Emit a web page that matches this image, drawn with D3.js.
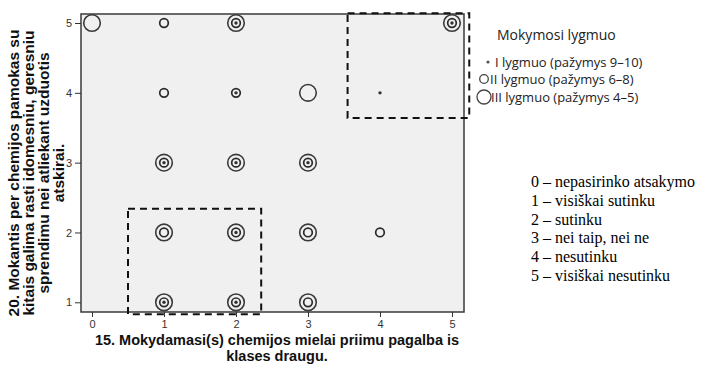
<!DOCTYPE html>
<html>
<head>
<meta charset="utf-8">
<script src="https://cdn.jsdelivr.net/npm/d3@7"></script>
<style>
  body { margin: 0; background: #fff; }
  svg { display: block; }
</style>
</head>
<body>
<div id="container"></div>
<script>
// DATA
const xTicks = [0, 1, 2, 3, 4, 5];
const yTicks = [1, 2, 3, 4, 5];

// [x answer, y answer] cells where each learning level appears
const levelI = [[2, 5], [5, 5], [2, 4], [4, 4], [1, 3], [2, 3], [3, 3], [2, 2], [1, 1], [2, 1]];
const levelII = [[1, 5], [2, 5], [5, 5], [1, 4], [2, 4], [1, 3], [2, 3], [3, 3], [1, 2], [2, 2], [3, 2], [4, 2], [1, 1], [2, 1], [3, 1]];
const levelIII = [[0, 5], [2, 5], [5, 5], [3, 4], [1, 3], [2, 3], [3, 3], [1, 2], [2, 2], [3, 2], [1, 1], [2, 1], [3, 1]];

const legendTitle = "Mokymosi lygmuo";
const legendLabels = ["I lygmuo (pažymys 9–10)", "II lygmuo (pažymys 6–8)", "III lygmuo (pažymys 4–5)"];

const scaleNotes = [
  "0 – nepasirinko atsakymo",
  "1 – visiškai sutinku",
  "2 – sutinku",
  "3 – nei taip, nei ne",
  "4 – nesutinku",
  "5 – visiškai nesutinku"
];

const xTitle = ["15. Mokydamasi(s) chemijos mielai priimu pagalba is", "klases draugu."];
const yTitle = ["20. Mokantis per chemijos pamokas su", "kitais galima rasti idomesniu, geresniu", "sprendimu nei atliekant uzduotis", "atskirai."];

// highlighted regions, in answer units
const boxes = [
  { x0: 0.5, x1: 2.35, y0: 0.83, y1: 2.34 },
  { x0: 3.55, x1: 5.24, y0: 3.64, y1: 5.14 }
];

/* CONSTANTS */
const width = 706, height = 371;
const plot = { left: 81, right: 464, top: 14, bottom: 312 };

const svg = d3.select("#container")
  .append("svg")
  .attr("width", width)
  .attr("height", height);

// SCALES
const xScale = d3.scaleLinear()
  .domain([-0.153, 5.167])
  .range([plot.left, plot.right]);

const yScale = d3.scaleLinear()
  .domain([0.861, 5.129])
  .range([plot.bottom, plot.top]);

// plot background
svg.append("rect")
  .attr("x", plot.left)
  .attr("y", plot.top)
  .attr("width", plot.right - plot.left)
  .attr("height", plot.bottom - plot.top)
  .attr("fill", "#f0f0f0")
  .attr("stroke", "#3a3a3a")
  .attr("stroke-width", 1.5);

// AXES
const xAxis = svg.append("g")
  .attr("transform", `translate(0,${plot.bottom})`)
  .call(d3.axisBottom(xScale).tickValues(xTicks).tickSize(5).tickPadding(3).tickFormat(d3.format("d")));

const yAxis = svg.append("g")
  .attr("transform", `translate(${plot.left},0)`)
  .call(d3.axisLeft(yScale).tickValues(yTicks).tickSize(6).tickPadding(3).tickFormat(d3.format("d")));

[xAxis, yAxis].forEach(ax => {
  ax.select(".domain").remove();
  ax.selectAll(".tick line").attr("stroke", "#333");
  ax.selectAll(".tick text")
    .attr("fill", "#333")
    .style("font-family", "'Liberation Sans', Arial, sans-serif")
    .style("font-size", "11px");
});

// MARKERS
const markers = svg.append("g");

markers.selectAll(".lvl3")
  .data(levelIII)
  .join("circle")
  .attr("class", "lvl3")
  .attr("cx", d => xScale(d[0]))
  .attr("cy", d => yScale(d[1]))
  .attr("r", 8.3)
  .attr("fill", "none")
  .attr("stroke", "#3a3a3a")
  .attr("stroke-width", 1.6);

markers.selectAll(".lvl2")
  .data(levelII)
  .join("circle")
  .attr("class", "lvl2")
  .attr("cx", d => xScale(d[0]))
  .attr("cy", d => yScale(d[1]))
  .attr("r", 4.3)
  .attr("fill", "none")
  .attr("stroke", "#2a2a2a")
  .attr("stroke-width", 1.7);

markers.selectAll(".lvl1")
  .data(levelI)
  .join("circle")
  .attr("class", "lvl1")
  .attr("cx", d => xScale(d[0]))
  .attr("cy", d => yScale(d[1]))
  .attr("r", 1.7)
  .attr("fill", "#333");

// DASHED BOXES
svg.selectAll(".box")
  .data(boxes)
  .join("rect")
  .attr("class", "box")
  .attr("x", d => xScale(d.x0))
  .attr("y", d => yScale(d.y1))
  .attr("width", d => xScale(d.x1) - xScale(d.x0))
  .attr("height", d => yScale(d.y0) - yScale(d.y1))
  .attr("fill", "none")
  .attr("stroke", "#111")
  .attr("stroke-width", 2)
  .attr("stroke-dasharray", "7,5");

// AXIS TITLES
svg.append("text")
  .attr("text-anchor", "middle")
  .style("font-family", "'Liberation Sans', Arial, sans-serif")
  .style("font-weight", "bold")
  .style("font-size", "14.5px")
  .attr("fill", "#111")
  .selectAll("tspan")
  .data(xTitle)
  .join("tspan")
  .attr("x", 277)
  .attr("y", (d, i) => 345 + i * 16)
  .text(d => d);

svg.append("text")
  .attr("text-anchor", "middle")
  .attr("transform", "translate(0,173) rotate(-90)")
  .style("font-family", "'Liberation Sans', Arial, sans-serif")
  .style("font-weight", "bold")
  .style("font-size", "15.5px")
  .attr("fill", "#111")
  .selectAll("tspan")
  .data(yTitle)
  .join("tspan")
  .attr("x", 0)
  .attr("y", (d, i) => 19 + i * 15)
  .text(d => d);

// LEGEND
const legend = svg.append("g")
  .style("font-family", "'Open Sans', sans-serif")
  .attr("fill", "#222");

legend.append("text")
  .attr("x", 497)
  .attr("y", 40)
  .style("font-size", "14px")
  .text(legendTitle);

const legendItems = [
  { cx: 488, cy: 62, r: 1.6, tx: 495 },
  { cx: 484, cy: 79, r: 4.3, tx: 490 },
  { cx: 484, cy: 97, r: 7, tx: 491 }
];

legend.selectAll(".lg-mark")
  .data(legendItems)
  .join("circle")
  .attr("class", "lg-mark")
  .attr("cx", d => d.cx)
  .attr("cy", d => d.cy)
  .attr("r", d => d.r)
  .attr("fill", (d, i) => i === 0 ? "#555" : "none")
  .attr("stroke", (d, i) => i === 0 ? "none" : "#444")
  .attr("stroke-width", 1.3);

legend.selectAll(".lg-text")
  .data(legendItems)
  .join("text")
  .attr("class", "lg-text")
  .attr("x", d => d.tx)
  .attr("y", d => d.cy + 4.5)
  .style("font-size", "13px")
  .text((d, i) => legendLabels[i]);

// SCALE NOTES
svg.append("g")
  .style("font-family", "'Liberation Serif', 'Times New Roman', serif")
  .style("font-size", "16px")
  .attr("fill", "#000")
  .selectAll("text")
  .data(scaleNotes)
  .join("text")
  .attr("x", 531)
  .attr("y", (d, i) => 187 + i * 18.8)
  .text(d => d);
</script>
</body>
</html>
